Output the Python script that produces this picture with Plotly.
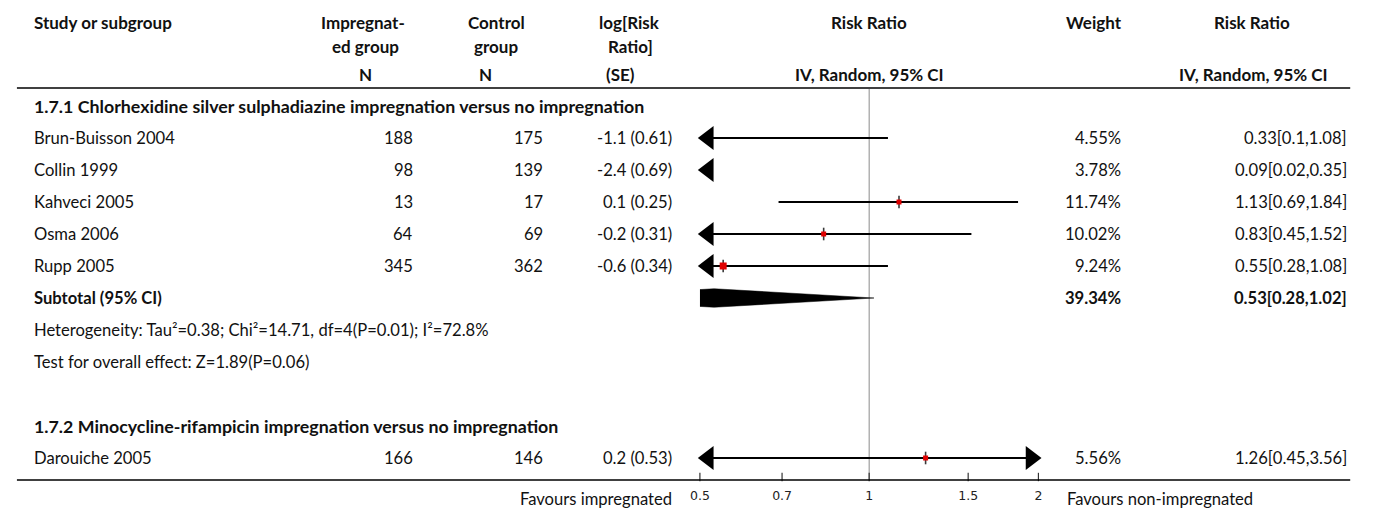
import math
import plotly.graph_objects as go

# ---------------- data ----------------
studies = ["Brun-Buisson 2004", "Collin 1999", "Kahveci 2005", "Osma 2006", "Rupp 2005", "Darouiche 2005"]
n_impregnated = [188, 98, 13, 64, 345, 166]
n_control = [175, 139, 17, 69, 362, 146]
log_rr_se = ["-1.1 (0.61)", "-2.4 (0.69)", "0.1 (0.25)", "-0.2 (0.31)", "-0.6 (0.34)", "0.2 (0.53)"]
weights = ["4.55%", "3.78%", "11.74%", "10.02%", "9.24%", "5.56%"]
rr = [0.33, 0.09, 1.13, 0.83, 0.55, 1.26]
ci_low = [0.1, 0.02, 0.69, 0.45, 0.28, 0.45]
ci_high = [1.08, 0.35, 1.84, 1.52, 1.08, 3.56]

subgroup_titles = ["1.7.1 Chlorhexidine silver sulphadiazine impregnation versus no impregnation",
                   "1.7.2 Minocycline-rifampicin impregnation versus no impregnation"]
subtotal_rr, subtotal_low, subtotal_high = 0.53, 0.28, 1.02
subtotal_weight = "39.34%"
heterogeneity = "Heterogeneity: Tau²=0.38; Chi²=14.71, df=4(P=0.01); I²=72.8%"
overall_effect = "Test for overall effect: Z=1.89(P=0.06)"
tick_values = [0.5, 0.7, 1, 1.5, 2]
tick_labels = ["0.5", "0.7", "1", "1.5", "2"]
favours_left = "Favours impregnated"
favours_right = "Favours non-impregnated"

# ---------------- layout / style ----------------
W, H = 1375, 509
ROW0_PX, ROW_PX = 106, 32          # pixel of row 0 and row spacing
study_rows = [1, 2, 3, 4, 5, 11]
title_rows = [0, 10]
SUBTOTAL_ROW, HET_ROW, TEST_ROW = 6, 7, 8
square_sizes = [5, 5, 5, 5, 7, 5]
AX_MIN, AX_MAX = 0.5, 2.0
AX_L_PX, AX_R_PX = 697, 1039
AXIS_LINE_PX = 480
HEADER_LINE_PX = 88
PX_PER_DEC = (AX_R_PX - AX_L_PX) / (math.log10(AX_MAX) - math.log10(AX_MIN))

FONT = "Lato"
FS = 16.6
FS_TITLE = 17.8
FS_HDR = 17.0
TXT = "#111111"


def row_of(px):
    return (px - ROW0_PX) / ROW_PX


def px_x(px):
    return px / W


def px_y(px):
    return 1 - px / H


def shift(v, px):
    return v * 10 ** (px / PX_PER_DEC)


fig = go.Figure()

# CI lines
for i in range(len(studies)):
    if ci_high[i] < AX_MIN or ci_low[i] > AX_MAX:
        continue
    x0 = max(ci_low[i], AX_MIN)
    x1 = min(ci_high[i], AX_MAX)
    fig.add_trace(go.Scatter(x=[x0, x1], y=[study_rows[i]] * 2, mode="lines",
                             line=dict(color="black", width=1.8), hoverinfo="skip",
                             showlegend=False, cliponaxis=False))

# point estimate tick + square
for i in range(len(studies)):
    if AX_MIN <= rr[i] <= AX_MAX:
        fig.add_trace(go.Scatter(x=[rr[i]], y=[study_rows[i]], mode="markers",
                                 marker=dict(symbol="line-ns-open", size=9, color="#3a3a3a",
                                             line=dict(color="#3a3a3a", width=1.6)),
                                 hoverinfo="skip", showlegend=False, cliponaxis=False))
        fig.add_trace(go.Scatter(x=[rr[i]], y=[study_rows[i]], mode="markers",
                                 marker=dict(symbol="square", size=square_sizes[i], color="#e00000",
                                             line=dict(width=0)),
                                 hoverinfo="skip", showlegend=False, cliponaxis=False))

# arrows for truncated CIs
left_x, left_y, right_x, right_y = [], [], [], []
for i in range(len(studies)):
    if ci_low[i] < AX_MIN:
        left_x.append(shift(AX_MIN, 8.5))
        left_y.append(study_rows[i])
    if ci_high[i] > AX_MAX:
        right_x.append(shift(AX_MAX, -7.5))
        right_y.append(study_rows[i])
fig.add_trace(go.Scatter(x=left_x, y=left_y, mode="markers",
                         marker=dict(symbol="triangle-left", size=21, color="black", line=dict(width=0)),
                         hoverinfo="skip", showlegend=False, cliponaxis=False))
fig.add_trace(go.Scatter(x=right_x, y=right_y, mode="markers",
                         marker=dict(symbol="triangle-right", size=21, color="black", line=dict(width=0)),
                         hoverinfo="skip", showlegend=False, cliponaxis=False))

# subtotal diamond (clipped to axis range, in log space)
half = 0.29
lg = math.log10
def dia_half(x):
    if x <= subtotal_rr:
        return half * (lg(x) - lg(subtotal_low)) / (lg(subtotal_rr) - lg(subtotal_low))
    return half * (lg(subtotal_high) - lg(x)) / (lg(subtotal_high) - lg(subtotal_rr))
xl = max(subtotal_low, AX_MIN)
xr = min(subtotal_high, AX_MAX)
dx = [xl, subtotal_rr, xr, subtotal_rr, xl, xl]
dy = [SUBTOTAL_ROW - dia_half(xl), SUBTOTAL_ROW - half, SUBTOTAL_ROW - dia_half(xr),
      SUBTOTAL_ROW + half, SUBTOTAL_ROW + dia_half(xl), SUBTOTAL_ROW - dia_half(xl)]
fig.add_trace(go.Scatter(x=dx, y=dy, mode="lines", fill="toself", fillcolor="black",
                         line=dict(color="black", width=0.5), hoverinfo="skip",
                         showlegend=False, cliponaxis=False))

# axis tick marks (upward from the axis line)
fig.add_trace(go.Scatter(x=tick_values, y=[row_of(AXIS_LINE_PX - 3)] * len(tick_values), mode="markers",
                         marker=dict(symbol="line-ns-open", size=6, color="#333333",
                                     line=dict(color="#333333", width=1.2)),
                         hoverinfo="skip", showlegend=False, cliponaxis=False))

# ---------------- text ----------------
ann = []


def txt(text, xpx, y, anchor="left", bold=False, yref="y", size=FS, family=FONT):
    t = f"<b>{text}</b>" if bold else text
    ann.append(dict(text=t, x=px_x(xpx), xref="paper", y=y, yref=yref,
                    xanchor=anchor, yanchor="middle", showarrow=False,
                    font=dict(family=family, size=size, color=TXT)))


# headers (paper y)
hdr = [("Study or subgroup", 22, 22, "left"),
       ("Impregnat-", 357, 22, "center"), ("ed group", 359, 46, "center"), ("N", 359, 74, "center"),
       ("Control", 491, 22, "center"), ("group", 491, 46, "center"), ("N", 480, 74, "center"),
       ("log[Risk", 626, 22, "center"), ("Ratio]", 627, 46, "center"), ("(SE)", 617, 74, "center"),
       ("Risk Ratio", 868, 22, "center"), ("IV, Random, 95% CI", 868, 74, "center"),
       ("Weight", 1095, 22, "center"),
       ("Risk Ratio", 1255, 22, "center"), ("IV, Random, 95% CI", 1256, 74, "center")]
for t, xp, yp, a in hdr:
    txt(t, xp, px_y(yp), a, bold=True, yref="paper", size=FS_HDR)

for r, t in zip(title_rows, subgroup_titles):
    txt(t, 22, r, bold=True, size=FS_TITLE)

for i, s in enumerate(studies):
    r = study_rows[i]
    txt(s, 22, r)
    txt(str(n_impregnated[i]), 409, r, "right")
    txt(str(n_control[i]), 541, r, "right")
    txt(log_rr_se[i], 671, r, "right")
    txt(weights[i], 1124, r, "right")
    txt(f"{rr[i]}[{ci_low[i]},{ci_high[i]}]", 1353, r, "right")

txt("Subtotal (95% CI)", 22, SUBTOTAL_ROW, bold=True)
txt(subtotal_weight, 1124, SUBTOTAL_ROW, "right", bold=True)
txt(f"{subtotal_rr}[{subtotal_low},{subtotal_high}]", 1353, SUBTOTAL_ROW, "right", bold=True)
txt(heterogeneity, 22, HET_ROW)
txt(overall_effect, 22, TEST_ROW)

txt(favours_left, 671, px_y(499), "right", yref="paper")
txt(favours_right, 1066, px_y(499), "left", yref="paper")

# ---------------- shapes ----------------
shapes = [
    dict(type="line", xref="paper", yref="paper", x0=px_x(7), x1=px_x(1354),
         y0=px_y(HEADER_LINE_PX), y1=px_y(HEADER_LINE_PX), line=dict(color="black", width=1.5)),
    dict(type="line", xref="paper", yref="paper", x0=px_x(7), x1=px_x(1354),
         y0=px_y(AXIS_LINE_PX), y1=px_y(AXIS_LINE_PX), line=dict(color="black", width=1.5)),
    dict(type="line", xref="x", yref="paper", x0=1, x1=1,
         y0=px_y(HEADER_LINE_PX + 1), y1=px_y(AXIS_LINE_PX), line=dict(color="#8a8a8a", width=1),
         layer="below"),
]

fig.update_layout(
    width=W, height=H, margin=dict(l=0, r=0, t=0, b=0),
    paper_bgcolor="white", plot_bgcolor="rgba(0,0,0,0)",
    showlegend=False, annotations=ann, shapes=shapes,
    xaxis=dict(type="log", range=[lg(AX_MIN), lg(AX_MAX)],
               domain=[AX_L_PX / W, AX_R_PX / W], anchor="free",
               position=px_y(AXIS_LINE_PX), showgrid=False, zeroline=False, showline=False,
               tickvals=tick_values, ticktext=tick_labels, ticks="",
               tickfont=dict(family="DejaVu Sans", size=12.5, color="#222222"),
               ticklabelstandoff=6),
    yaxis=dict(range=[row_of(H), row_of(0)], domain=[0, 1], visible=False,
               showgrid=False, zeroline=False),
)

fig.write_html("out.html")
